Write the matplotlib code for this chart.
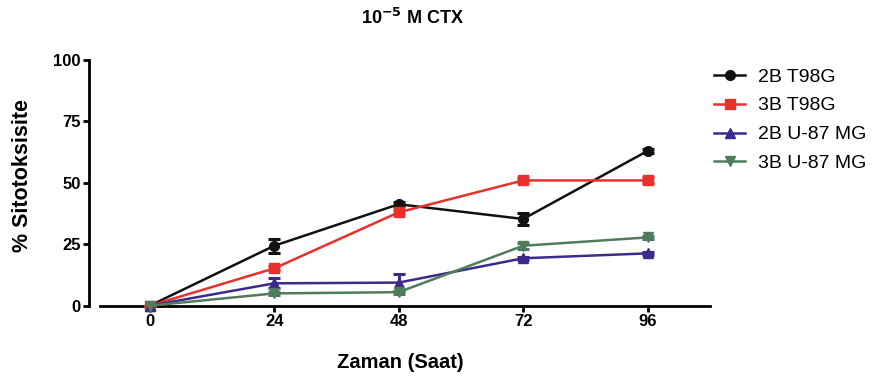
import matplotlib
matplotlib.use("Agg")
import matplotlib.pyplot as plt
from matplotlib.lines import Line2D

plt.rcParams['font.family'] = ['Liberation Sans', 'DejaVu Sans']

hours = [0, 24, 48, 72, 96]
series_names = ["2B T98G", "3B T98G", "2B U-87 MG", "3B U-87 MG"]
t98g_2b = [0, 24.4, 41.3, 35.3, 63.0]
t98g_2b_err = [0, 2.9, 0.8, 2.4, 0.8]
t98g_3b = [0, 15.2, 38.0, 51.0, 51.0]
t98g_3b_err = [0, 0.8, 0.8, 0.8, 1.2]
u87_2b = [0, 9.1, 9.4, 19.3, 21.3]
u87_2b_err = [0, 2.0, 3.6, 0.6, 0.6]
u87_3b = [0, 5.0, 5.5, 24.4, 27.8]
u87_3b_err = [0, 0.6, 0.6, 1.2, 0.6]

colors = ["#111111", "#e8312b", "#3d2a8a", "#4f7d5c"]
markers = ["o", "s", "^", "v"]

fig = plt.figure(figsize=(8.8, 3.85), dpi=100)
ax = fig.add_axes([0.1136, 0.206, 0.693, 0.638])

data = [(t98g_2b, t98g_2b_err), (t98g_3b, t98g_3b_err),
        (u87_2b, u87_2b_err), (u87_3b, u87_3b_err)]
handles = []
for (vals, errs), name, c, m in zip(data, series_names, colors, markers):
    eb = ax.errorbar(hours, vals, yerr=errs, color=c, marker=m, markersize=7,
                     linewidth=1.8, elinewidth=2.2, capsize=4, capthick=2.2,
                     clip_on=False, zorder=3)
    for art in eb.lines[1] + eb.lines[2]:
        art.set_clip_on(False)
    handles.append(Line2D([], [], color=c, marker=m, markersize=7,
                          linewidth=1.8))

ax.set_xlim(-9.6, 108)
ax.set_ylim(0, 100)
ax.set_xticks(hours)
ax.set_yticks([0, 25, 50, 75, 100])

for s in ["top", "right"]:
    ax.spines[s].set_visible(False)
ax.spines["left"].set_position(("outward", 8))
ax.spines["left"].set_linewidth(2)
ax.spines["bottom"].set_linewidth(2)
ax.tick_params(axis="both", width=2, length=4, labelsize=12, pad=2)
for lbl in ax.get_xticklabels() + ax.get_yticklabels():
    lbl.set_fontweight("bold")

fig.text(400.5 / 880, 1 - 363 / 385, "Zaman (Saat)", ha="center",
         va="center", fontsize=14.5, fontweight="bold")
fig.text(22 / 880, 1 - 175 / 385, "% Sitotoksisite", ha="center",
         va="center", rotation=90, fontsize=15.5, fontweight="bold")
fig.text(412 / 880, 1 - 18 / 385, r"10$^{\mathbf{-5}}$ M CTX", ha="center",
         va="center", fontsize=13, fontweight="bold")

fig.legend(handles=handles, labels=series_names, loc="upper left",
           bbox_to_anchor=(714 / 880, 1 - 68 / 385), frameon=False,
           fontsize=14, handlelength=1.6, handletextpad=0.65,
           labelspacing=0.58, borderaxespad=0, borderpad=0)

fig.savefig("out.png", dpi=100)
